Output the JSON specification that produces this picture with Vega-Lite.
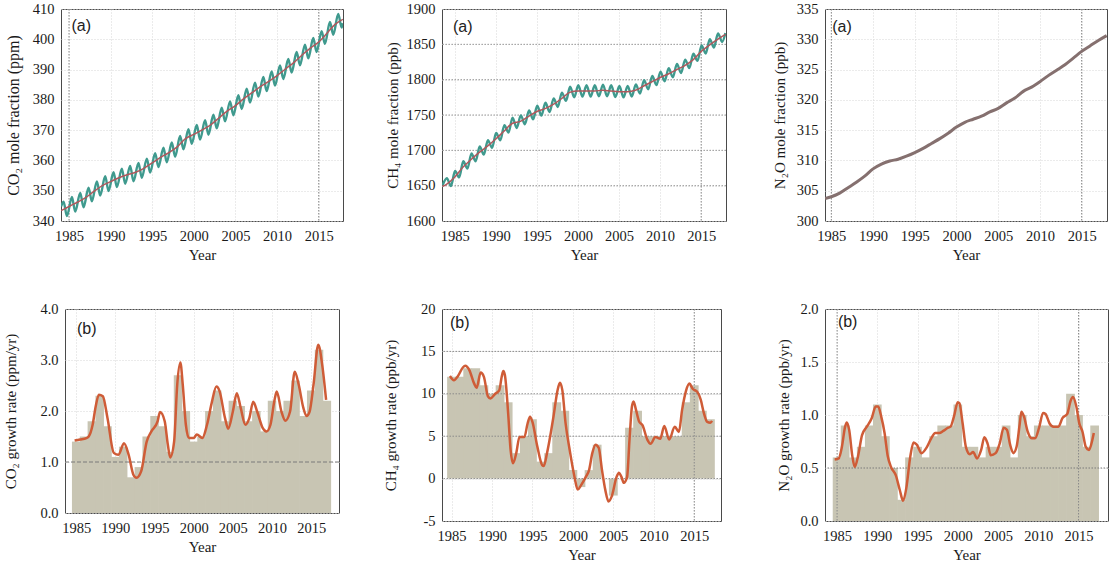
{
"$schema": "https://vega.github.io/schema/vega-lite/v6.json",
"autosize": "none",
"padding": {"left": 61, "top": 9, "right": 1054, "bottom": 557},
"background": "white",
"config": {
  "font": "Liberation Serif",
  "view": {"stroke": "#4a4a4a", "strokeWidth": 1},
  "axis": {"labelFont": "Liberation Serif", "labelFontSize": 14.5, "labelColor": "#1a1a1a", "titleFont": "Liberation Serif", "titleFontSize": 15, "titleFontWeight": "normal", "titleColor": "#1a1a1a", "domain": false, "ticks": false, "labelPadding": 7, "gridColor": "#d6d6d6", "gridDash": [1, 2], "labelFlush": false, "labelOverlap": false, "labelSeparation": 0},
  "axisX": {"labelPadding": 8, "titlePadding": 5}
},
"datasets": {
  "co2s": [{"yr":1984.05,"v":344.8},{"yr":1984.35,"v":346.4},{"yr":1984.75,"v":341.6},{"yr":1985.35,"v":347.9},{"yr":1985.75,"v":343.1},{"yr":1986.35,"v":349.3},{"yr":1986.75,"v":344.5},{"yr":1987.35,"v":351.0},{"yr":1987.75,"v":346.5},{"yr":1988.35,"v":353.1},{"yr":1988.75,"v":348.4},{"yr":1989.35,"v":354.8},{"yr":1989.75,"v":349.9},{"yr":1990.35,"v":356.1},{"yr":1990.75,"v":351.2},{"yr":1991.35,"v":357.3},{"yr":1991.75,"v":352.3},{"yr":1992.35,"v":358.2},{"yr":1992.75,"v":353.1},{"yr":1993.35,"v":359.2},{"yr":1993.75,"v":354.3},{"yr":1994.35,"v":360.6},{"yr":1994.75,"v":356.0},{"yr":1995.35,"v":362.4},{"yr":1995.75,"v":357.8},{"yr":1996.35,"v":364.2},{"yr":1996.75,"v":359.4},{"yr":1997.35,"v":365.9},{"yr":1997.75,"v":361.2},{"yr":1998.35,"v":368.1},{"yr":1998.75,"v":363.7},{"yr":1999.35,"v":370.3},{"yr":1999.75,"v":365.5},{"yr":2000.35,"v":371.7},{"yr":2000.75,"v":366.9},{"yr":2001.35,"v":373.3},{"yr":2001.75,"v":368.5},{"yr":2002.35,"v":375.1},{"yr":2002.75,"v":370.6},{"yr":2003.35,"v":377.4},{"yr":2003.75,"v":372.9},{"yr":2004.35,"v":379.5},{"yr":2004.75,"v":374.9},{"yr":2005.35,"v":381.5},{"yr":2005.75,"v":377.0},{"yr":2006.35,"v":383.7},{"yr":2006.75,"v":379.1},{"yr":2007.35,"v":385.7},{"yr":2007.75,"v":381.1},{"yr":2008.35,"v":387.6},{"yr":2008.75,"v":382.9},{"yr":2009.35,"v":389.4},{"yr":2009.75,"v":384.7},{"yr":2010.35,"v":391.4},{"yr":2010.75,"v":386.9},{"yr":2011.35,"v":393.5},{"yr":2011.75,"v":389.0},{"yr":2012.35,"v":395.8},{"yr":2012.75,"v":391.4},{"yr":2013.35,"v":398.2},{"yr":2013.75,"v":393.7},{"yr":2014.35,"v":400.4},{"yr":2014.75,"v":395.8},{"yr":2015.35,"v":402.7},{"yr":2015.75,"v":398.5},{"yr":2016.35,"v":405.7},{"yr":2016.75,"v":401.5},{"yr":2017.35,"v":408.4},{"yr":2017.75,"v":403.9},{"yr":2017.9,"v":405.3}],
  "co2t": [{"yr":1984.05,"v":343.4},{"yr":1985,"v":344.8},{"yr":1986,"v":346.2},{"yr":1987,"v":347.7},{"yr":1988,"v":349.8},{"yr":1989,"v":351.7},{"yr":1990,"v":353.0},{"yr":1991,"v":354.3},{"yr":1992,"v":355.3},{"yr":1993,"v":356.1},{"yr":1994,"v":357.4},{"yr":1995,"v":359.2},{"yr":1996,"v":361.0},{"yr":1997,"v":362.6},{"yr":1998,"v":364.5},{"yr":1999,"v":367.2},{"yr":2000,"v":368.6},{"yr":2001,"v":370.1},{"yr":2002,"v":371.7},{"yr":2003,"v":374.0},{"yr":2004,"v":376.3},{"yr":2005,"v":378.1},{"yr":2006,"v":380.4},{"yr":2007,"v":382.4},{"yr":2008,"v":384.4},{"yr":2009,"v":386.1},{"yr":2010,"v":388.0},{"yr":2011,"v":390.2},{"yr":2012,"v":392.3},{"yr":2013,"v":394.8},{"yr":2014,"v":397.1},{"yr":2015,"v":399.1},{"yr":2016,"v":402.0},{"yr":2017,"v":405.0},{"yr":2017.9,"v":406.6}],
  "ch4s": [{"yr":1983.55,"v":1651},{"yr":1984.05,"v":1660.5},{"yr":1984.55,"v":1649.5},{"yr":1985.05,"v":1670.7},{"yr":1985.55,"v":1661.7},{"yr":1986.05,"v":1684.6},{"yr":1986.55,"v":1674.1},{"yr":1987.05,"v":1695.5},{"yr":1987.55,"v":1684.5},{"yr":1988.05,"v":1705.5},{"yr":1988.55,"v":1694.0},{"yr":1989.05,"v":1714.5},{"yr":1989.55,"v":1703.5},{"yr":1990.05,"v":1724.6},{"yr":1990.55,"v":1714.1},{"yr":1991.05,"v":1735.6},{"yr":1991.55,"v":1725.1},{"yr":1992.05,"v":1746.2},{"yr":1992.55,"v":1731.7},{"yr":1993.05,"v":1749.4},{"yr":1993.55,"v":1736.9},{"yr":1994.05,"v":1756.4},{"yr":1994.55,"v":1743.9},{"yr":1995.05,"v":1763.2},{"yr":1995.55,"v":1749.2},{"yr":1996.05,"v":1767.3},{"yr":1996.55,"v":1754.3},{"yr":1997.05,"v":1773.4},{"yr":1997.55,"v":1761.4},{"yr":1998.05,"v":1781.5},{"yr":1998.55,"v":1770.0},{"yr":1999.05,"v":1790.1},{"yr":1999.55,"v":1775.1},{"yr":2000.05,"v":1792},{"yr":2000.55,"v":1776},{"yr":2001.05,"v":1792},{"yr":2001.55,"v":1776},{"yr":2002.05,"v":1792},{"yr":2002.55,"v":1776.6},{"yr":2003.05,"v":1793},{"yr":2003.55,"v":1776.5},{"yr":2004.05,"v":1792},{"yr":2004.55,"v":1775.5},{"yr":2005.05,"v":1791},{"yr":2005.55,"v":1775},{"yr":2006.05,"v":1791.1},{"yr":2006.55,"v":1776.1},{"yr":2007.05,"v":1793.3},{"yr":2007.55,"v":1780.3},{"yr":2008.05,"v":1799.3},{"yr":2008.55,"v":1786.3},{"yr":2009.05,"v":1805.3},{"yr":2009.55,"v":1792.3},{"yr":2010.05,"v":1811.3},{"yr":2010.55,"v":1797.8},{"yr":2011.05,"v":1816.3},{"yr":2011.55,"v":1803.3},{"yr":2012.05,"v":1822.3},{"yr":2012.55,"v":1809.3},{"yr":2013.05,"v":1828.4},{"yr":2013.55,"v":1816.4},{"yr":2014.05,"v":1836.6},{"yr":2014.55,"v":1826.6},{"yr":2015.05,"v":1848.5},{"yr":2015.55,"v":1836.9},{"yr":2016.05,"v":1857.4},{"yr":2016.55,"v":1845.4},{"yr":2017.05,"v":1865.4},{"yr":2017.55,"v":1853.4},{"yr":2017.95,"v":1866}],
  "ch4t": [{"yr":1983.55,"v":1649},{"yr":1984,"v":1652},{"yr":1985,"v":1662},{"yr":1986,"v":1676},{"yr":1987,"v":1687},{"yr":1988,"v":1697},{"yr":1989,"v":1706},{"yr":1990,"v":1716},{"yr":1991,"v":1727},{"yr":1992,"v":1738},{"yr":1993,"v":1741},{"yr":1994,"v":1748},{"yr":1995,"v":1755},{"yr":1996,"v":1759},{"yr":1997,"v":1765},{"yr":1998,"v":1773},{"yr":1999,"v":1782},{"yr":2000,"v":1784},{"yr":2001,"v":1784},{"yr":2002,"v":1784},{"yr":2003,"v":1785},{"yr":2004,"v":1784},{"yr":2005,"v":1783},{"yr":2006,"v":1783},{"yr":2007,"v":1785},{"yr":2008,"v":1791},{"yr":2009,"v":1797},{"yr":2010,"v":1803},{"yr":2011,"v":1808},{"yr":2012,"v":1814},{"yr":2013,"v":1820},{"yr":2014,"v":1828},{"yr":2015,"v":1840},{"yr":2016,"v":1849},{"yr":2017,"v":1857},{"yr":2017.95,"v":1864}],
  "n2o": [{"yr":1984.25,"v":303.7},{"yr":1985,"v":304.0},{"yr":1986,"v":304.6},{"yr":1987,"v":305.5},{"yr":1988,"v":306.4},{"yr":1989,"v":307.4},{"yr":1990,"v":308.6},{"yr":1991,"v":309.4},{"yr":1992,"v":309.9},{"yr":1993,"v":310.2},{"yr":1994,"v":310.7},{"yr":1995,"v":311.3},{"yr":1996,"v":312.0},{"yr":1997,"v":312.8},{"yr":1998,"v":313.6},{"yr":1999,"v":314.5},{"yr":2000,"v":315.5},{"yr":2001,"v":316.3},{"yr":2002,"v":316.8},{"yr":2003,"v":317.3},{"yr":2004,"v":318.0},{"yr":2005,"v":318.6},{"yr":2006,"v":319.5},{"yr":2007,"v":320.3},{"yr":2008,"v":321.4},{"yr":2009,"v":322.1},{"yr":2010,"v":323.0},{"yr":2011,"v":324.0},{"yr":2012,"v":324.9},{"yr":2013,"v":325.8},{"yr":2014,"v":326.9},{"yr":2015,"v":328.0},{"yr":2016,"v":328.9},{"yr":2017,"v":329.8},{"yr":2018.0,"v":330.6}],
  "co2b": [{"yr":1985,"v":1.4},{"yr":1986,"v":1.5},{"yr":1987,"v":1.8},{"yr":1988,"v":2.3},{"yr":1989,"v":1.7},{"yr":1990,"v":1.1},{"yr":1991,"v":1.3},{"yr":1992,"v":0.7},{"yr":1993,"v":0.9},{"yr":1994,"v":1.5},{"yr":1995,"v":1.9},{"yr":1996,"v":1.7},{"yr":1997,"v":1.2},{"yr":1998,"v":2.7},{"yr":1999,"v":2.0},{"yr":2000,"v":1.4},{"yr":2001,"v":1.5},{"yr":2002,"v":2.0},{"yr":2003,"v":2.4},{"yr":2004,"v":1.8},{"yr":2005,"v":2.2},{"yr":2006,"v":2.1},{"yr":2007,"v":1.8},{"yr":2008,"v":2.0},{"yr":2009,"v":1.6},{"yr":2010,"v":2.2},{"yr":2011,"v":2.0},{"yr":2012,"v":2.2},{"yr":2013,"v":2.6},{"yr":2014,"v":1.9},{"yr":2015,"v":2.4},{"yr":2016,"v":3.2},{"yr":2017,"v":2.2}],
  "co2g": [{"yr":1984.8,"v":1.42},{"yr":1985.5,"v":1.44},{"yr":1986.3,"v":1.47},{"yr":1986.6,"v":1.5},{"yr":1987.1,"v":1.73},{"yr":1987.5,"v":2.1},{"yr":1987.9,"v":2.32},{"yr":1988.4,"v":2.29},{"yr":1989.0,"v":1.86},{"yr":1989.8,"v":1.18},{"yr":1990.4,"v":1.14},{"yr":1991.1,"v":1.37},{"yr":1991.7,"v":1.14},{"yr":1992.3,"v":0.75},{"yr":1992.7,"v":0.69},{"yr":1993.3,"v":0.82},{"yr":1994.0,"v":1.4},{"yr":1994.6,"v":1.6},{"yr":1995.4,"v":1.8},{"yr":1995.7,"v":1.98},{"yr":1996.3,"v":1.8},{"yr":1996.7,"v":1.34},{"yr":1997.0,"v":1.09},{"yr":1997.5,"v":1.4},{"yr":1997.9,"v":2.52},{"yr":1998.3,"v":2.95},{"yr":1998.6,"v":2.52},{"yr":1999.0,"v":1.73},{"yr":1999.4,"v":1.47},{"yr":2000.0,"v":1.47},{"yr":2000.4,"v":1.54},{"yr":2001.1,"v":1.47},{"yr":2001.7,"v":1.73},{"yr":2002.3,"v":2.16},{"yr":2002.9,"v":2.48},{"yr":2003.3,"v":2.39},{"yr":2004.0,"v":1.86},{"yr":2004.4,"v":1.65},{"yr":2005.0,"v":1.99},{"yr":2005.5,"v":2.35},{"yr":2006.0,"v":2.06},{"yr":2006.6,"v":1.73},{"yr":2007.1,"v":1.86},{"yr":2007.6,"v":2.18},{"yr":2008.1,"v":1.99},{"yr":2008.8,"v":1.67},{"yr":2009.3,"v":1.6},{"yr":2009.8,"v":1.73},{"yr":2010.3,"v":2.2},{"yr":2010.6,"v":2.38},{"yr":2011.2,"v":1.99},{"yr":2011.7,"v":1.81},{"yr":2012.3,"v":1.99},{"yr":2012.9,"v":2.77},{"yr":2013.4,"v":2.52},{"yr":2014.0,"v":2.06},{"yr":2014.4,"v":1.9},{"yr":2014.8,"v":1.99},{"yr":2015.3,"v":2.52},{"yr":2015.9,"v":3.3},{"yr":2016.4,"v":2.91},{"yr":2016.9,"v":2.22}],
  "ch4b": [{"yr":1985,"v":12},{"yr":1986,"v":12},{"yr":1987,"v":13},{"yr":1988,"v":13},{"yr":1989,"v":11},{"yr":1990,"v":10},{"yr":1991,"v":11},{"yr":1992,"v":9},{"yr":1993,"v":3},{"yr":1994,"v":5},{"yr":1995,"v":7},{"yr":1996,"v":2},{"yr":1997,"v":3},{"yr":1998,"v":9},{"yr":1999,"v":8},{"yr":2000,"v":1},{"yr":2001,"v":-1},{"yr":2002,"v":1},{"yr":2003,"v":4},{"yr":2004,"v":0},{"yr":2005,"v":-2},{"yr":2006,"v":0},{"yr":2007,"v":6},{"yr":2008,"v":8},{"yr":2009,"v":5},{"yr":2010,"v":5},{"yr":2011,"v":5},{"yr":2012,"v":5},{"yr":2013,"v":5},{"yr":2014,"v":9},{"yr":2015,"v":11},{"yr":2016,"v":8},{"yr":2017,"v":7}],
  "ch4g": [{"yr":1984.8,"v":12.1},{"yr":1985.3,"v":11.6},{"yr":1985.8,"v":12.1},{"yr":1986.4,"v":13.1},{"yr":1986.7,"v":13.3},{"yr":1987.2,"v":12.8},{"yr":1987.8,"v":11.2},{"yr":1988.1,"v":10.7},{"yr":1988.6,"v":12.5},{"yr":1989.0,"v":12.0},{"yr":1989.5,"v":9.7},{"yr":1989.8,"v":9.45},{"yr":1990.4,"v":10.0},{"yr":1990.9,"v":10.4},{"yr":1991.2,"v":12.0},{"yr":1991.4,"v":12.7},{"yr":1991.6,"v":12.2},{"yr":1992.0,"v":7.7},{"yr":1992.3,"v":3.4},{"yr":1992.6,"v":1.8},{"yr":1993.0,"v":3.0},{"yr":1993.4,"v":4.9},{"yr":1994.0,"v":4.9},{"yr":1994.4,"v":6.5},{"yr":1994.7,"v":7.3},{"yr":1995.0,"v":6.7},{"yr":1995.6,"v":3.8},{"yr":1996.2,"v":1.6},{"yr":1996.4,"v":1.5},{"yr":1996.8,"v":3.0},{"yr":1997.6,"v":7.3},{"yr":1998.1,"v":10.4},{"yr":1998.4,"v":11.3},{"yr":1998.7,"v":10.4},{"yr":1999.1,"v":6.5},{"yr":1999.6,"v":3.4},{"yr":2000.2,"v":0.2},{"yr":2000.6,"v":-1.3},{"yr":2001.0,"v":-0.8},{"yr":2001.6,"v":0.2},{"yr":2002.0,"v":1.0},{"yr":2002.4,"v":3.0},{"yr":2002.8,"v":4.0},{"yr":2003.2,"v":3.6},{"yr":2003.6,"v":1.0},{"yr":2004.0,"v":-1.3},{"yr":2004.4,"v":-2.7},{"yr":2004.8,"v":-2.1},{"yr":2005.4,"v":0.2},{"yr":2005.7,"v":0.7},{"yr":2006.0,"v":0.2},{"yr":2006.3,"v":-0.5},{"yr":2006.7,"v":0.2},{"yr":2007.0,"v":4.6},{"yr":2007.3,"v":8.5},{"yr":2007.5,"v":9.1},{"yr":2007.8,"v":8.1},{"yr":2008.2,"v":6.7},{"yr":2008.6,"v":6.3},{"yr":2009.2,"v":4.6},{"yr":2009.6,"v":4.1},{"yr":2010.2,"v":4.9},{"yr":2010.8,"v":4.7},{"yr":2011.3,"v":6.2},{"yr":2011.9,"v":4.6},{"yr":2012.6,"v":6.1},{"yr":2013.1,"v":5.5},{"yr":2013.5,"v":8.1},{"yr":2014.0,"v":10.4},{"yr":2014.4,"v":11.2},{"yr":2014.8,"v":10.6},{"yr":2015.4,"v":10.2},{"yr":2015.8,"v":9.3},{"yr":2016.2,"v":7.7},{"yr":2016.6,"v":6.7},{"yr":2017.0,"v":6.6},{"yr":2017.2,"v":6.8}],
  "n2ob": [{"yr":1985,"v":0.6},{"yr":1986,"v":0.9},{"yr":1987,"v":0.6},{"yr":1988,"v":0.7},{"yr":1989,"v":0.9},{"yr":1990,"v":1.1},{"yr":1991,"v":0.8},{"yr":1992,"v":0.5},{"yr":1993,"v":0.2},{"yr":1994,"v":0.6},{"yr":1995,"v":0.7},{"yr":1996,"v":0.6},{"yr":1997,"v":0.8},{"yr":1998,"v":0.9},{"yr":1999,"v":0.9},{"yr":2000,"v":1.1},{"yr":2001,"v":0.7},{"yr":2002,"v":0.7},{"yr":2003,"v":0.6},{"yr":2004,"v":0.7},{"yr":2005,"v":0.7},{"yr":2006,"v":0.9},{"yr":2007,"v":0.6},{"yr":2008,"v":1.0},{"yr":2009,"v":0.8},{"yr":2010,"v":0.9},{"yr":2011,"v":0.9},{"yr":2012,"v":0.9},{"yr":2013,"v":0.9},{"yr":2014,"v":1.2},{"yr":2015,"v":1.0},{"yr":2016,"v":0.7},{"yr":2017,"v":0.9}],
  "n2og": [{"yr":1984.7,"v":0.58},{"yr":1985.2,"v":0.59},{"yr":1985.6,"v":0.7},{"yr":1986.0,"v":0.89},{"yr":1986.2,"v":0.93},{"yr":1986.5,"v":0.86},{"yr":1986.9,"v":0.61},{"yr":1987.2,"v":0.51},{"yr":1987.6,"v":0.61},{"yr":1988.1,"v":0.81},{"yr":1988.7,"v":0.89},{"yr":1989.3,"v":0.97},{"yr":1989.8,"v":1.08},{"yr":1990.1,"v":1.08},{"yr":1990.5,"v":0.98},{"yr":1990.9,"v":0.83},{"yr":1991.3,"v":0.61},{"yr":1991.7,"v":0.51},{"yr":1992.3,"v":0.43},{"yr":1992.8,"v":0.29},{"yr":1993.2,"v":0.19},{"yr":1993.6,"v":0.31},{"yr":1994.1,"v":0.61},{"yr":1994.5,"v":0.74},{"yr":1994.9,"v":0.72},{"yr":1995.5,"v":0.64},{"yr":1996.1,"v":0.69},{"yr":1996.7,"v":0.78},{"yr":1997.2,"v":0.83},{"yr":1997.7,"v":0.83},{"yr":1998.2,"v":0.85},{"yr":1998.8,"v":0.88},{"yr":1999.1,"v":0.89},{"yr":1999.5,"v":0.98},{"yr":2000.0,"v":1.12},{"yr":2000.2,"v":1.11},{"yr":2000.6,"v":0.92},{"yr":2001.0,"v":0.7},{"yr":2001.5,"v":0.63},{"yr":2001.9,"v":0.65},{"yr":2002.4,"v":0.59},{"yr":2002.9,"v":0.67},{"yr":2003.3,"v":0.79},{"yr":2003.7,"v":0.73},{"yr":2004.1,"v":0.62},{"yr":2004.7,"v":0.64},{"yr":2005.2,"v":0.73},{"yr":2005.7,"v":0.88},{"yr":2006.1,"v":0.86},{"yr":2006.5,"v":0.72},{"yr":2006.9,"v":0.64},{"yr":2007.3,"v":0.7},{"yr":2007.7,"v":0.92},{"yr":2007.9,"v":1.03},{"yr":2008.2,"v":0.99},{"yr":2008.7,"v":0.84},{"yr":2009.2,"v":0.78},{"yr":2009.6,"v":0.78},{"yr":2010.1,"v":0.88},{"yr":2010.6,"v":1.02},{"yr":2010.9,"v":1.01},{"yr":2011.4,"v":0.92},{"yr":2011.9,"v":0.89},{"yr":2012.5,"v":0.89},{"yr":2013.0,"v":0.97},{"yr":2013.6,"v":1.01},{"yr":2014.0,"v":1.13},{"yr":2014.3,"v":1.17},{"yr":2014.7,"v":1.09},{"yr":2015.1,"v":0.92},{"yr":2015.5,"v":0.84},{"yr":2015.9,"v":0.7},{"yr":2016.3,"v":0.67},{"yr":2016.7,"v":0.76},{"yr":2016.9,"v":0.83}]
},
"concat": [
  {"width": 282, "height": 212, "layer": [
    {"data": {"name": "co2s"}, "mark": {"type": "line", "opacity": 0},
     "encoding": {"x": {"field": "yr", "type": "quantitative", "scale": {"domain": [1984.04, 2017.92], "nice": false, "zero": false}, "axis": {"values": [1985, 1990, 1995, 2000, 2005, 2010, 2015], "tickCount": 7, "format": "d", "title": "Year", "labelPadding": 8, "titlePadding": 5}}, "y": {"field": "v", "type": "quantitative", "scale": {"domain": [340, 410], "nice": false, "zero": false}, "axis": {"values": [340, 350, 360, 370, 380, 390, 400, 410], "tickCount": 8, "format": "d", "title": "CO₂ mole fraction (ppm)", "titlePadding": 11, "titleFontSize": 16, "labelOverlap": false}}}},
    {"data": {"values": [{"yr": 1985}, {"yr": 2015}]}, "mark": {"type": "rule", "color": "#8a8a8a", "strokeDash": [1.5, 1.5], "strokeWidth": 1},
     "encoding": {"x": {"field": "yr", "type": "quantitative"}}},
    {"data": {"name": "co2s"}, "mark": {"type": "line", "color": "#3f9a8e", "strokeWidth": 2.4, "interpolate": "monotone", "clip": true},
     "encoding": {"x": {"field": "yr", "type": "quantitative"}, "y": {"field": "v", "type": "quantitative"}}},
    {"data": {"name": "co2t"}, "mark": {"type": "line", "color": "#b0575c", "strokeWidth": 1.5, "interpolate": "monotone", "clip": true},
     "encoding": {"x": {"field": "yr", "type": "quantitative"}, "y": {"field": "v", "type": "quantitative"}}},
    {"data": {"values": [{}]}, "mark": {"type": "text", "text": "(a)", "align": "left", "baseline": "middle", "font": "Liberation Sans", "fontSize": 16, "color": "#222"},
     "encoding": {"x": {"datum": 1985.3}, "y": {"datum": 404.4}}}
  ]},
  {"width": 284, "height": 212, "layer": [
    {"data": {"name": "ch4s"}, "mark": {"type": "line", "opacity": 0},
     "encoding": {"x": {"field": "yr", "type": "quantitative", "scale": {"domain": [1983.46, 2018.02], "nice": false, "zero": false}, "axis": {"values": [1985, 1990, 1995, 2000, 2005, 2010, 2015], "tickCount": 7, "format": "d", "title": "Year", "labelPadding": 8, "titlePadding": 5}}, "y": {"field": "v", "type": "quantitative", "scale": {"domain": [1600, 1900], "nice": false, "zero": false}, "axis": {"values": [1600, 1650, 1700, 1750, 1800, 1850, 1900], "tickCount": 7, "format": "d", "title": "CH₄ mole fraction (ppb)", "titlePadding": 6, "labelOverlap": false}}}},
    {"data": {"values": [{"v": 1650}, {"v": 1700}, {"v": 1750}, {"v": 1800}, {"v": 1850}]}, "mark": {"type": "rule", "color": "#9a9a9a", "strokeDash": [1.5, 1.5], "strokeWidth": 1},
     "encoding": {"y": {"field": "v", "type": "quantitative"}}},
    {"data": {"values": [{"yr": 2015}]}, "mark": {"type": "rule", "color": "#8a8a8a", "strokeDash": [1.5, 1.5], "strokeWidth": 1},
     "encoding": {"x": {"field": "yr", "type": "quantitative"}}},
    {"data": {"name": "ch4s"}, "mark": {"type": "line", "color": "#3f9a8e", "strokeWidth": 2.4, "interpolate": "monotone", "clip": true},
     "encoding": {"x": {"field": "yr", "type": "quantitative"}, "y": {"field": "v", "type": "quantitative"}}},
    {"data": {"name": "ch4t"}, "mark": {"type": "line", "color": "#b0575c", "strokeWidth": 1.5, "interpolate": "monotone", "clip": true},
     "encoding": {"x": {"field": "yr", "type": "quantitative"}, "y": {"field": "v", "type": "quantitative"}}},
    {"data": {"values": [{}]}, "mark": {"type": "text", "text": "(a)", "align": "left", "baseline": "middle", "font": "Liberation Sans", "fontSize": 16, "color": "#222"},
     "encoding": {"x": {"datum": 1984.8}, "y": {"datum": 1874.6}}}
  ]},
  {"width": 282, "height": 212, "layer": [
    {"data": {"name": "n2o"}, "mark": {"type": "line", "opacity": 0},
     "encoding": {"x": {"field": "yr", "type": "quantitative", "scale": {"domain": [1984.24, 2018.04], "nice": false, "zero": false}, "axis": {"values": [1985, 1990, 1995, 2000, 2005, 2010, 2015], "tickCount": 7, "format": "d", "title": "Year", "labelPadding": 8, "titlePadding": 5}}, "y": {"field": "v", "type": "quantitative", "scale": {"domain": [300, 335], "nice": false, "zero": false}, "axis": {"values": [300, 305, 310, 315, 320, 325, 330, 335], "tickCount": 8, "format": "d", "title": "N₂O mole fraction (ppb)", "titlePadding": 9, "labelOverlap": false}}}},
    {"data": {"values": [{"yr": 1985}, {"yr": 2015}]}, "mark": {"type": "rule", "color": "#8a8a8a", "strokeDash": [1.5, 1.5], "strokeWidth": 1},
     "encoding": {"x": {"field": "yr", "type": "quantitative"}}},
    {"data": {"name": "n2o"}, "mark": {"type": "line", "color": "#85706f", "strokeWidth": 3, "interpolate": "monotone", "clip": true},
     "encoding": {"x": {"field": "yr", "type": "quantitative"}, "y": {"field": "v", "type": "quantitative"}}},
    {"data": {"values": [{}]}, "mark": {"type": "text", "text": "(a)", "align": "left", "baseline": "middle", "font": "Liberation Sans", "fontSize": 16, "color": "#222"},
     "encoding": {"x": {"datum": 1985.1}, "y": {"datum": 332.0}}}
  ]},
  {"width": 274, "height": 204, "layer": [
    {"data": {"name": "co2b"}, "mark": {"type": "bar", "color": "#c8c5b3", "width": 8.5},
     "encoding": {"x": {"field": "yr", "type": "quantitative", "scale": {"domain": [1984.21, 2017.91], "nice": false, "zero": false}, "axis": {"values": [1985, 1990, 1995, 2000, 2005, 2010, 2015], "tickCount": 7, "format": "d", "title": "Year", "labelPadding": 8, "titlePadding": 5}}, "y": {"field": "v", "type": "quantitative", "scale": {"domain": [0, 4], "nice": false}, "axis": {"values": [0, 1, 2, 3, 4], "tickCount": 5, "format": ".1f", "title": "CO₂ growth rate (ppm/yr)", "titlePadding": 21}}}},
    {"data": {"values": [{"v": 1}]}, "mark": {"type": "rule", "color": "#7a7a7a", "strokeDash": [4, 2], "strokeWidth": 1},
     "encoding": {"y": {"field": "v", "type": "quantitative"}}},
    {"data": {"name": "co2g"}, "mark": {"type": "line", "color": "#cf5c37", "strokeWidth": 2.5, "interpolate": "monotone", "clip": true},
     "encoding": {"x": {"field": "yr", "type": "quantitative"}, "y": {"field": "v", "type": "quantitative"}}},
    {"data": {"values": [{}]}, "mark": {"type": "text", "text": "(b)", "align": "left", "baseline": "middle", "font": "Liberation Sans", "fontSize": 16, "color": "#222"},
     "encoding": {"x": {"datum": 1985.1}, "y": {"datum": 3.61}}}
  ]},
  {"width": 279, "height": 212, "layer": [
    {"data": {"name": "ch4b"}, "mark": {"type": "bar", "color": "#c8c5b3", "width": 8.8},
     "encoding": {"x": {"field": "yr", "type": "quantitative", "scale": {"domain": [1984.44, 2017.69], "nice": false, "zero": false}, "axis": {"values": [1985, 1990, 1995, 2000, 2005, 2010, 2015], "tickCount": 7, "format": "d", "title": "Year", "labelPadding": 8, "titlePadding": 5}}, "y": {"field": "v", "type": "quantitative", "scale": {"domain": [-5, 20], "nice": false}, "axis": {"values": [-5, 0, 5, 10, 15, 20], "tickCount": 6, "format": "d", "labelExpr": "datum.value < 0 ? '-' + format(-datum.value, 'd') : datum.label", "title": "CH₄ growth rate (ppb/yr)", "titlePadding": 22}}}},
    {"data": {"values": [{"v": 0}, {"v": 5}, {"v": 10}, {"v": 15}]}, "mark": {"type": "rule", "color": "#8a8a8a", "strokeDash": [1.5, 1.5], "strokeWidth": 1},
     "encoding": {"y": {"field": "v", "type": "quantitative"}}},
    {"data": {"values": [{"yr": 2015}]}, "mark": {"type": "rule", "color": "#8a8a8a", "strokeDash": [1.5, 1.5], "strokeWidth": 1},
     "encoding": {"x": {"field": "yr", "type": "quantitative"}}},
    {"data": {"name": "ch4g"}, "mark": {"type": "line", "color": "#cf5c37", "strokeWidth": 2.5, "interpolate": "monotone", "clip": true},
     "encoding": {"x": {"field": "yr", "type": "quantitative"}, "y": {"field": "v", "type": "quantitative"}}},
    {"data": {"values": [{}]}, "mark": {"type": "text", "text": "(b)", "align": "left", "baseline": "middle", "font": "Liberation Sans", "fontSize": 16, "color": "#222"},
     "encoding": {"x": {"datum": 1984.8}, "y": {"datum": 18.35}}}
  ]},
  {"width": 283, "height": 212, "layer": [
    {"data": {"name": "n2ob"}, "mark": {"type": "bar", "color": "#c8c5b3", "width": 8.7},
     "encoding": {"x": {"field": "yr", "type": "quantitative", "scale": {"domain": [1984.12, 2018.04], "nice": false, "zero": false}, "axis": {"values": [1985, 1990, 1995, 2000, 2005, 2010, 2015], "tickCount": 7, "format": "d", "title": "Year", "labelPadding": 8, "titlePadding": 5}}, "y": {"field": "v", "type": "quantitative", "scale": {"domain": [0, 2], "nice": false}, "axis": {"values": [0, 0.5, 1, 1.5, 2], "tickCount": 5, "format": ".1f", "title": "N₂O growth rate (ppb/yr)", "titlePadding": 8}}}},
    {"data": {"values": [{"v": 0.5}]}, "mark": {"type": "rule", "color": "#7a7a7a", "strokeDash": [1.5, 1.5], "strokeWidth": 1},
     "encoding": {"y": {"field": "v", "type": "quantitative"}}},
    {"data": {"values": [{"yr": 1985}, {"yr": 2015}]}, "mark": {"type": "rule", "color": "#8a8a8a", "strokeDash": [1.5, 1.5], "strokeWidth": 1},
     "encoding": {"x": {"field": "yr", "type": "quantitative"}}},
    {"data": {"name": "n2og"}, "mark": {"type": "line", "color": "#cf5c37", "strokeWidth": 2.5, "interpolate": "monotone", "clip": true},
     "encoding": {"x": {"field": "yr", "type": "quantitative"}, "y": {"field": "v", "type": "quantitative"}}},
    {"data": {"values": [{}]}, "mark": {"type": "text", "text": "(b)", "align": "left", "baseline": "middle", "font": "Liberation Sans", "fontSize": 16, "color": "#222"},
     "encoding": {"x": {"datum": 1985.1}, "y": {"datum": 1.88}}}
  ]}
],
"columns": 3,
"align": "each",
"bounds": "flush",
"center": true,
"spacing": {"row": 88, "column": 99}
}
